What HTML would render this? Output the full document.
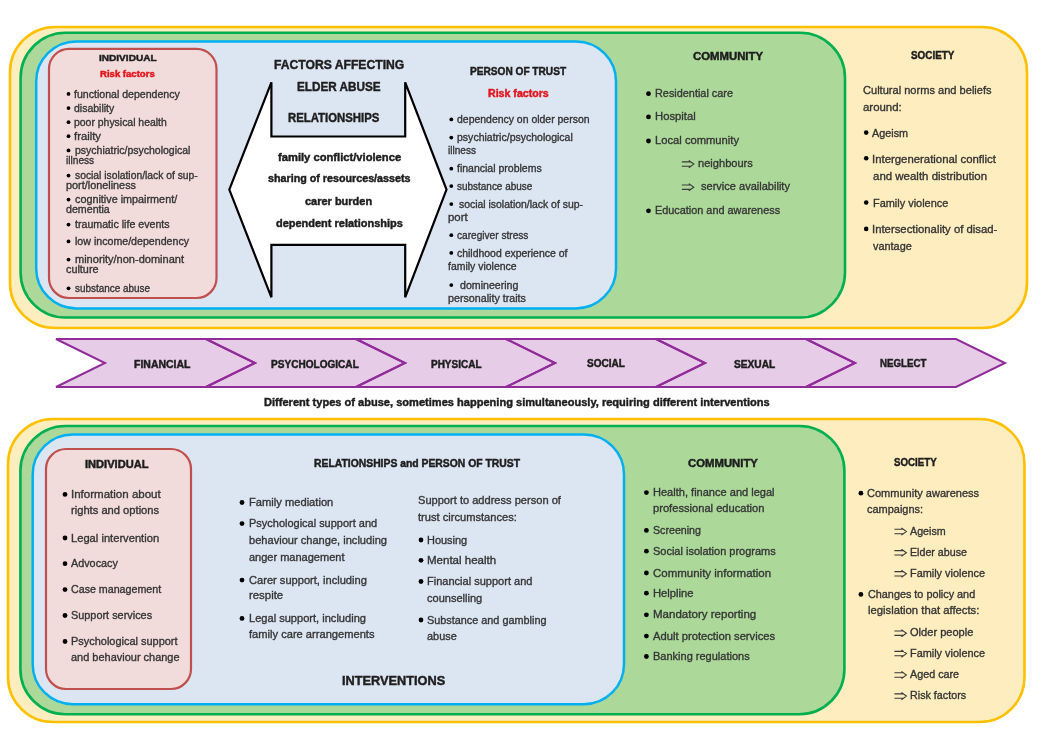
<!DOCTYPE html>
<html><head><meta charset="utf-8"><style>
html,body{margin:0;padding:0;background:#fff;}
body{width:1045px;height:729px;position:relative;overflow:hidden;font-family:"Liberation Sans",sans-serif;}
svg{position:absolute;left:0;top:0;}
#w{position:absolute;left:0;top:0;width:1045px;height:729px;filter:blur(0.55px);}
.t{position:absolute;white-space:nowrap;line-height:normal;transform-origin:0 0;-webkit-text-stroke:0.35px currentColor;}
.b{-webkit-text-stroke:0.45px currentColor;}
</style></head><body>
<div id="w">
<svg width="1045" height="729" viewBox="0 0 1045 729">
<rect x="10" y="27" width="1017" height="301" rx="45" fill="#FEEDBE" stroke="#FFC000" stroke-width="2.6"/>
<rect x="20.6" y="32.8" width="824.4" height="284.7" rx="45" fill="#ACD99A" stroke="#00B050" stroke-width="2.6"/>
<rect x="36.2" y="41.5" width="579.8" height="266.9" rx="40" fill="#DCE5F2" stroke="#00B0F0" stroke-width="2.5"/>
<rect x="49" y="48.9" width="167.5" height="249.1" rx="20" fill="#F2DBDB" stroke="#C0504D" stroke-width="2.2"/>
<rect x="8" y="419" width="1016.5" height="303" rx="45" fill="#FEEDBE" stroke="#FFC000" stroke-width="2.6"/>
<rect x="20.4" y="426" width="824" height="288.2" rx="45" fill="#ACD99A" stroke="#00B050" stroke-width="2.6"/>
<rect x="32.7" y="434.4" width="591.3" height="269.8" rx="40" fill="#DCE5F2" stroke="#00B0F0" stroke-width="2.5"/>
<rect x="46" y="449" width="145" height="240" rx="20" fill="#F2DBDB" stroke="#C0504D" stroke-width="2.2"/>
<polygon points="229.3,189.6 271.4,82.3 271.4,136.5 405.2,136.5 405.2,82.3 446.5,189.6 405.2,297.3 405.2,244.8 271.4,244.8 271.4,297.3" fill="#FFFFFF" stroke="#000" stroke-width="2.2" stroke-linejoin="miter" stroke-miterlimit="1.5"/>
<polygon points="56,339 956,339 1005,363 956,387 56,387 105,363" fill="#E6CCE6"/>
<polygon points="56,339 206,339 255,363 206,387 56,387 105,363" fill="none" stroke="#912C9A" stroke-width="2" stroke-linejoin="miter"/>
<polygon points="206,339 356,339 405,363 356,387 206,387 255,363" fill="none" stroke="#912C9A" stroke-width="2" stroke-linejoin="miter"/>
<polygon points="356,339 506,339 555,363 506,387 356,387 405,363" fill="none" stroke="#912C9A" stroke-width="2" stroke-linejoin="miter"/>
<polygon points="506,339 656,339 705,363 656,387 506,387 555,363" fill="none" stroke="#912C9A" stroke-width="2" stroke-linejoin="miter"/>
<polygon points="656,339 806,339 855,363 806,387 656,387 705,363" fill="none" stroke="#912C9A" stroke-width="2" stroke-linejoin="miter"/>
<polygon points="806,339 956,339 1005,363 956,387 806,387 855,363" fill="none" stroke="#912C9A" stroke-width="2" stroke-linejoin="miter"/>
<circle cx="68.5" cy="93.90" r="1.9" fill="#000"/>
<circle cx="68.5" cy="108.10" r="1.9" fill="#000"/>
<circle cx="68.5" cy="122.20" r="1.9" fill="#000"/>
<circle cx="68.5" cy="136.20" r="1.9" fill="#000"/>
<circle cx="68.5" cy="150.40" r="1.9" fill="#000"/>
<circle cx="68.5" cy="175.60" r="1.9" fill="#000"/>
<circle cx="68.5" cy="199.60" r="1.9" fill="#000"/>
<circle cx="68.5" cy="224.60" r="1.9" fill="#000"/>
<circle cx="68.5" cy="241.40" r="1.9" fill="#000"/>
<circle cx="68.5" cy="259.60" r="1.9" fill="#000"/>
<circle cx="68.5" cy="288.30" r="1.9" fill="#000"/>
<circle cx="451.3" cy="119.40" r="1.9" fill="#000"/>
<circle cx="451.3" cy="137.60" r="1.9" fill="#000"/>
<circle cx="451.3" cy="168.70" r="1.9" fill="#000"/>
<circle cx="451.3" cy="186.10" r="1.9" fill="#000"/>
<circle cx="451.3" cy="204.10" r="1.9" fill="#000"/>
<circle cx="451.3" cy="235.20" r="1.9" fill="#000"/>
<circle cx="451.3" cy="252.90" r="1.9" fill="#000"/>
<circle cx="451.3" cy="285.10" r="1.9" fill="#000"/>
<circle cx="648.5" cy="93.70" r="2.4" fill="#000"/>
<circle cx="648.5" cy="116.90" r="2.4" fill="#000"/>
<circle cx="648.5" cy="141.00" r="2.4" fill="#000"/>
<circle cx="648.5" cy="210.80" r="2.4" fill="#000"/>
<circle cx="866.2" cy="132.60" r="2.3" fill="#000"/>
<circle cx="866.2" cy="158.20" r="2.3" fill="#000"/>
<circle cx="866.2" cy="202.50" r="2.3" fill="#000"/>
<circle cx="866.2" cy="228.90" r="2.3" fill="#000"/>
<circle cx="65.0" cy="494.40" r="2.4" fill="#000"/>
<circle cx="65.0" cy="538.00" r="2.4" fill="#000"/>
<circle cx="65.0" cy="563.70" r="2.4" fill="#000"/>
<circle cx="65.0" cy="589.60" r="2.4" fill="#000"/>
<circle cx="65.0" cy="615.50" r="2.4" fill="#000"/>
<circle cx="65.0" cy="641.50" r="2.4" fill="#000"/>
<circle cx="242.0" cy="502.50" r="2.4" fill="#000"/>
<circle cx="242.0" cy="523.60" r="2.4" fill="#000"/>
<circle cx="242.0" cy="580.10" r="2.4" fill="#000"/>
<circle cx="242.0" cy="618.40" r="2.4" fill="#000"/>
<circle cx="421.0" cy="540.00" r="2.4" fill="#000"/>
<circle cx="421.0" cy="560.30" r="2.4" fill="#000"/>
<circle cx="421.0" cy="581.50" r="2.4" fill="#000"/>
<circle cx="421.0" cy="620.00" r="2.4" fill="#000"/>
<circle cx="646.4" cy="492.60" r="2.4" fill="#000"/>
<circle cx="646.4" cy="530.40" r="2.4" fill="#000"/>
<circle cx="646.4" cy="551.20" r="2.4" fill="#000"/>
<circle cx="646.4" cy="573.00" r="2.4" fill="#000"/>
<circle cx="646.4" cy="593.20" r="2.4" fill="#000"/>
<circle cx="646.4" cy="614.80" r="2.4" fill="#000"/>
<circle cx="646.4" cy="636.10" r="2.4" fill="#000"/>
<circle cx="646.4" cy="656.50" r="2.4" fill="#000"/>
<circle cx="860.9" cy="493.20" r="2.4" fill="#000"/>
<circle cx="860.9" cy="594.40" r="2.4" fill="#000"/>
<path d="M681.8 161.90H691.3M681.8 166.30H691.3M688.8 160.50L693.8 164.10L688.8 167.70" fill="none" stroke="#3a3a3a" stroke-width="1.1"/>
<path d="M681.8 185.00H691.3M681.8 189.40H691.3M688.8 183.60L693.8 187.20L688.8 190.80" fill="none" stroke="#3a3a3a" stroke-width="1.1"/>
<path d="M894.4 529.30H903.9M894.4 533.70H903.9M901.4 527.90L906.4 531.50L901.4 535.10" fill="none" stroke="#3a3a3a" stroke-width="1.1"/>
<path d="M894.4 550.60H903.9M894.4 555.00H903.9M901.4 549.20L906.4 552.80L901.4 556.40" fill="none" stroke="#3a3a3a" stroke-width="1.1"/>
<path d="M894.4 571.60H903.9M894.4 576.00H903.9M901.4 570.20L906.4 573.80L901.4 577.40" fill="none" stroke="#3a3a3a" stroke-width="1.1"/>
<path d="M894.4 631.00H903.9M894.4 635.40H903.9M901.4 629.60L906.4 633.20L901.4 636.80" fill="none" stroke="#3a3a3a" stroke-width="1.1"/>
<path d="M894.4 651.40H903.9M894.4 655.80H903.9M901.4 650.00L906.4 653.60L901.4 657.20" fill="none" stroke="#3a3a3a" stroke-width="1.1"/>
<path d="M894.4 672.80H903.9M894.4 677.20H903.9M901.4 671.40L906.4 675.00L901.4 678.60" fill="none" stroke="#3a3a3a" stroke-width="1.1"/>
<path d="M894.4 693.90H903.9M894.4 698.30H903.9M901.4 692.50L906.4 696.10L901.4 699.70" fill="none" stroke="#3a3a3a" stroke-width="1.1"/>
</svg>
<div class="t b" style="left:98.70px;top:53.12px;font-size:9.26px;font-weight:bold;color:#1e1e1e;transform:scaleX(1.0878)">INDIVIDUAL</div>
<div class="t b" style="left:100.00px;top:69.04px;font-size:8.8px;font-weight:bold;color:#e3151c;transform:scaleX(1.0873)">Risk factors</div>
<div class="t" style="left:74.20px;top:87.79px;font-size:10.51px;color:#363636;transform:scaleX(1.0067)">functional dependency</div>
<div class="t" style="left:74.20px;top:101.99px;font-size:10.51px;color:#363636;transform:scaleX(0.9988)">disability</div>
<div class="t" style="left:74.20px;top:116.09px;font-size:10.51px;color:#363636;transform:scaleX(0.9936)">poor physical health</div>
<div class="t" style="left:74.20px;top:130.09px;font-size:10.51px;color:#363636;transform:scaleX(1.0757)">frailty</div>
<div class="t" style="left:74.60px;top:144.29px;font-size:10.51px;color:#363636;transform:scaleX(0.9987)">psychiatric/psychological</div>
<div class="t" style="left:65.60px;top:153.99px;font-size:10.51px;color:#363636;transform:scaleX(0.9658)">illness</div>
<div class="t" style="left:74.60px;top:169.49px;font-size:10.51px;color:#363636;transform:scaleX(0.9832)">social isolation/lack of sup-</div>
<div class="t" style="left:65.70px;top:179.29px;font-size:10.51px;color:#363636;transform:scaleX(1.0340)">port/loneliness</div>
<div class="t" style="left:74.60px;top:193.49px;font-size:10.51px;color:#363636;transform:scaleX(1.0297)">cognitive impairment/</div>
<div class="t" style="left:65.70px;top:202.99px;font-size:10.51px;color:#363636;transform:scaleX(1.0139)">dementia</div>
<div class="t" style="left:74.60px;top:218.49px;font-size:10.51px;color:#363636;transform:scaleX(1.0134)">traumatic life events</div>
<div class="t" style="left:74.60px;top:235.29px;font-size:10.51px;color:#363636;transform:scaleX(1.0120)">low income/dependency</div>
<div class="t" style="left:74.60px;top:253.49px;font-size:10.51px;color:#363636;transform:scaleX(1.0491)">minority/non-dominant</div>
<div class="t" style="left:65.70px;top:263.49px;font-size:10.51px;color:#363636;transform:scaleX(1.0317)">culture</div>
<div class="t" style="left:74.60px;top:282.19px;font-size:10.51px;color:#363636;transform:scaleX(0.9458)">substance abuse</div>
<div class="t b" style="left:274.00px;top:57.03px;font-size:12.9px;font-weight:bold;color:#1e1e1e;transform:scaleX(0.9422)">FACTORS AFFECTING</div>
<div class="t b" style="left:296.90px;top:79.43px;font-size:12.9px;font-weight:bold;color:#1e1e1e;transform:scaleX(0.9087)">ELDER ABUSE</div>
<div class="t b" style="left:287.60px;top:110.23px;font-size:12.9px;font-weight:bold;color:#1e1e1e;transform:scaleX(0.8814)">RELATIONSHIPS</div>
<div class="t b" style="left:277.70px;top:150.65px;font-size:10.99px;font-weight:bold;color:#1e1e1e;transform:scaleX(1.0186)">family conflict/violence</div>
<div class="t b" style="left:267.80px;top:172.05px;font-size:10.99px;font-weight:bold;color:#1e1e1e;transform:scaleX(0.9764)">sharing of resources/assets</div>
<div class="t b" style="left:305.20px;top:195.05px;font-size:10.99px;font-weight:bold;color:#1e1e1e;transform:scaleX(0.9993)">carer burden</div>
<div class="t b" style="left:275.50px;top:216.65px;font-size:10.99px;font-weight:bold;color:#1e1e1e;transform:scaleX(0.9988)">dependent relationships</div>
<div class="t b" style="left:470.00px;top:66.02px;font-size:10.36px;font-weight:bold;color:#1e1e1e;transform:scaleX(0.9761)">PERSON OF TRUST</div>
<div class="t b" style="left:487.70px;top:87.57px;font-size:10.2px;font-weight:bold;color:#e3151c;transform:scaleX(1.0411)">Risk factors</div>
<div class="t" style="left:457.00px;top:113.19px;font-size:10.51px;color:#363636;transform:scaleX(0.9955)">dependency on older person</div>
<div class="t" style="left:457.00px;top:131.39px;font-size:10.51px;color:#363636;transform:scaleX(1.0022)">psychiatric/psychological</div>
<div class="t" style="left:448.40px;top:144.49px;font-size:10.51px;color:#363636;transform:scaleX(0.9623)">illness</div>
<div class="t" style="left:457.00px;top:162.49px;font-size:10.51px;color:#363636;transform:scaleX(1.0006)">financial problems</div>
<div class="t" style="left:457.00px;top:179.89px;font-size:10.51px;color:#363636;transform:scaleX(0.9484)">substance abuse</div>
<div class="t" style="left:459.00px;top:197.89px;font-size:10.51px;color:#363636;transform:scaleX(0.9928)">social isolation/lack of sup-</div>
<div class="t" style="left:448.40px;top:211.49px;font-size:10.51px;color:#363636;transform:scaleX(1.0829)">port</div>
<div class="t" style="left:457.00px;top:228.99px;font-size:10.51px;color:#363636;transform:scaleX(0.9636)">caregiver stress</div>
<div class="t" style="left:457.00px;top:246.69px;font-size:10.51px;color:#363636;transform:scaleX(0.9950)">childhood experience of</div>
<div class="t" style="left:448.40px;top:260.49px;font-size:10.51px;color:#363636;transform:scaleX(0.9964)">family violence</div>
<div class="t" style="left:459.60px;top:278.89px;font-size:10.51px;color:#363636;transform:scaleX(1.0104)">domineering</div>
<div class="t" style="left:448.40px;top:292.49px;font-size:10.51px;color:#363636;transform:scaleX(1.0190)">personality traits</div>
<div class="t b" style="left:692.60px;top:50.92px;font-size:10.36px;font-weight:bold;color:#1e1e1e;transform:scaleX(1.0956)">COMMUNITY</div>
<div class="t" style="left:654.70px;top:87.13px;font-size:11.02px;color:#363636;transform:scaleX(0.9873)">Residential care</div>
<div class="t" style="left:654.70px;top:110.33px;font-size:11.02px;color:#363636;transform:scaleX(1.0214)">Hospital</div>
<div class="t" style="left:654.70px;top:134.43px;font-size:11.02px;color:#363636;transform:scaleX(1.0164)">Local community</div>
<div class="t" style="left:697.50px;top:157.33px;font-size:11.02px;color:#363636;transform:scaleX(1.0064)">neighbours</div>
<div class="t" style="left:700.80px;top:180.43px;font-size:11.02px;color:#363636;transform:scaleX(1.0017)">service availability</div>
<div class="t" style="left:654.70px;top:204.23px;font-size:11.02px;color:#363636;transform:scaleX(0.9866)">Education and awareness</div>
<div class="t b" style="left:910.70px;top:49.62px;font-size:10.36px;font-weight:bold;color:#1e1e1e;transform:scaleX(0.9527)">SOCIETY</div>
<div class="t" style="left:863.30px;top:83.83px;font-size:11.02px;color:#363636;transform:scaleX(1.0047)">Cultural norms and beliefs</div>
<div class="t" style="left:863.30px;top:100.63px;font-size:11.02px;color:#363636;transform:scaleX(1.0375)">around:</div>
<div class="t" style="left:872.30px;top:127.03px;font-size:11.02px;color:#363636;transform:scaleX(0.9809)">Ageism</div>
<div class="t" style="left:871.80px;top:152.63px;font-size:11.02px;color:#363636;transform:scaleX(1.0321)">Intergenerational conflict</div>
<div class="t" style="left:872.80px;top:170.03px;font-size:11.02px;color:#363636;transform:scaleX(1.0407)">and wealth distribution</div>
<div class="t" style="left:872.80px;top:196.93px;font-size:11.02px;color:#363636;transform:scaleX(0.9921)">Family violence</div>
<div class="t" style="left:871.80px;top:223.33px;font-size:11.02px;color:#363636;transform:scaleX(1.0288)">Intersectionality of disad-</div>
<div class="t" style="left:872.80px;top:240.03px;font-size:11.02px;color:#363636;transform:scaleX(0.9885)">vantage</div>
<div class="t b" style="left:133.50px;top:359.40px;font-size:10.06px;font-weight:bold;color:#1e1e1e;transform:scaleX(1.0434)">FINANCIAL</div>
<div class="t b" style="left:270.90px;top:359.10px;font-size:10.06px;font-weight:bold;color:#1e1e1e;transform:scaleX(1.0017)">PSYCHOLOGICAL</div>
<div class="t b" style="left:430.90px;top:359.10px;font-size:10.06px;font-weight:bold;color:#1e1e1e;transform:scaleX(0.9941)">PHYSICAL</div>
<div class="t b" style="left:586.80px;top:358.20px;font-size:10.06px;font-weight:bold;color:#1e1e1e;transform:scaleX(1.0013)">SOCIAL</div>
<div class="t b" style="left:734.00px;top:358.70px;font-size:10.06px;font-weight:bold;color:#1e1e1e;transform:scaleX(1.0110)">SEXUAL</div>
<div class="t b" style="left:880.10px;top:357.90px;font-size:10.06px;font-weight:bold;color:#1e1e1e;transform:scaleX(0.9646)">NEGLECT</div>
<div class="t b" style="left:264.20px;top:395.07px;font-size:11.64px;font-weight:bold;color:#1e1e1e;transform:scaleX(0.9516)">Different types of abuse, sometimes happening simultaneously, requiring different interventions</div>
<div class="t b" style="left:85.40px;top:458.82px;font-size:10.36px;font-weight:bold;color:#1e1e1e;transform:scaleX(1.0709)">INDIVIDUAL</div>
<div class="t" style="left:71.20px;top:487.93px;font-size:11.02px;color:#363636;transform:scaleX(1.0467)">Information about</div>
<div class="t" style="left:71.20px;top:504.23px;font-size:11.02px;color:#363636;transform:scaleX(1.0132)">rights and options</div>
<div class="t" style="left:71.20px;top:531.53px;font-size:11.02px;color:#363636;transform:scaleX(1.0132)">Legal intervention</div>
<div class="t" style="left:71.20px;top:557.23px;font-size:11.02px;color:#363636;transform:scaleX(0.9811)">Advocacy</div>
<div class="t" style="left:71.20px;top:583.13px;font-size:11.02px;color:#363636;transform:scaleX(0.9683)">Case management</div>
<div class="t" style="left:71.20px;top:609.03px;font-size:11.02px;color:#363636;transform:scaleX(0.9884)">Support services</div>
<div class="t" style="left:71.20px;top:635.03px;font-size:11.02px;color:#363636;transform:scaleX(0.9944)">Psychological support</div>
<div class="t" style="left:71.20px;top:651.33px;font-size:11.02px;color:#363636;transform:scaleX(0.9959)">and behaviour change</div>
<div class="t b" style="left:314.20px;top:457.82px;font-size:10.36px;font-weight:bold;color:#1e1e1e;transform:scaleX(1.0007)">RELATIONSHIPS and PERSON OF TRUST</div>
<div class="t" style="left:248.70px;top:496.03px;font-size:11.02px;color:#363636;transform:scaleX(1.0126)">Family mediation</div>
<div class="t" style="left:248.70px;top:517.13px;font-size:11.02px;color:#363636;transform:scaleX(0.9961)">Psychological support and</div>
<div class="t" style="left:248.70px;top:533.73px;font-size:11.02px;color:#363636;transform:scaleX(1.0058)">behaviour change, including</div>
<div class="t" style="left:248.70px;top:551.03px;font-size:11.02px;color:#363636;transform:scaleX(0.9990)">anger management</div>
<div class="t" style="left:248.70px;top:573.63px;font-size:11.02px;color:#363636;transform:scaleX(1.0077)">Carer support, including</div>
<div class="t" style="left:248.70px;top:589.33px;font-size:11.02px;color:#363636;transform:scaleX(1.0333)">respite</div>
<div class="t" style="left:248.70px;top:611.93px;font-size:11.02px;color:#363636;transform:scaleX(1.0052)">Legal support, including</div>
<div class="t" style="left:248.70px;top:628.03px;font-size:11.02px;color:#363636;transform:scaleX(1.0097)">family care arrangements</div>
<div class="t" style="left:418.00px;top:493.83px;font-size:11.02px;color:#363636;transform:scaleX(1.0056)">Support to address person of</div>
<div class="t" style="left:418.00px;top:511.43px;font-size:11.02px;color:#363636;transform:scaleX(1.0092)">trust circumstances:</div>
<div class="t" style="left:427.00px;top:533.53px;font-size:11.02px;color:#363636;transform:scaleX(0.9938)">Housing</div>
<div class="t" style="left:427.00px;top:553.83px;font-size:11.02px;color:#363636;transform:scaleX(1.0462)">Mental health</div>
<div class="t" style="left:427.00px;top:575.03px;font-size:11.02px;color:#363636;transform:scaleX(1.0010)">Financial support and</div>
<div class="t" style="left:427.00px;top:591.83px;font-size:11.02px;color:#363636;transform:scaleX(1.0009)">counselling</div>
<div class="t" style="left:427.00px;top:613.53px;font-size:11.02px;color:#363636;transform:scaleX(0.9851)">Substance and gambling</div>
<div class="t" style="left:427.00px;top:630.33px;font-size:11.02px;color:#363636;transform:scaleX(0.9917)">abuse</div>
<div class="t b" style="left:341.70px;top:672.73px;font-size:12.9px;font-weight:bold;color:#1e1e1e;transform:scaleX(0.9885)">INTERVENTIONS</div>
<div class="t b" style="left:687.80px;top:458.02px;font-size:10.36px;font-weight:bold;color:#1e1e1e;transform:scaleX(1.0940)">COMMUNITY</div>
<div class="t" style="left:653.00px;top:486.13px;font-size:11.02px;color:#363636;transform:scaleX(1.0025)">Health, finance and legal</div>
<div class="t" style="left:653.00px;top:502.43px;font-size:11.02px;color:#363636;transform:scaleX(1.0109)">professional education</div>
<div class="t" style="left:653.00px;top:523.93px;font-size:11.02px;color:#363636;transform:scaleX(0.9667)">Screening</div>
<div class="t" style="left:653.00px;top:544.73px;font-size:11.02px;color:#363636;transform:scaleX(0.9967)">Social isolation programs</div>
<div class="t" style="left:653.00px;top:566.53px;font-size:11.02px;color:#363636;transform:scaleX(1.0424)">Community information</div>
<div class="t" style="left:653.00px;top:586.73px;font-size:11.02px;color:#363636;transform:scaleX(1.0189)">Helpline</div>
<div class="t" style="left:653.00px;top:608.33px;font-size:11.02px;color:#363636;transform:scaleX(1.0472)">Mandatory reporting</div>
<div class="t" style="left:653.00px;top:629.63px;font-size:11.02px;color:#363636;transform:scaleX(1.0179)">Adult protection services</div>
<div class="t" style="left:653.00px;top:650.03px;font-size:11.02px;color:#363636;transform:scaleX(0.9990)">Banking regulations</div>
<div class="t b" style="left:894.40px;top:457.22px;font-size:10.36px;font-weight:bold;color:#1e1e1e;transform:scaleX(0.9373)">SOCIETY</div>
<div class="t" style="left:867.40px;top:486.73px;font-size:11.02px;color:#363636;transform:scaleX(1.0009)">Community awareness</div>
<div class="t" style="left:867.40px;top:502.73px;font-size:11.02px;color:#363636;transform:scaleX(0.9956)">campaigns:</div>
<div class="t" style="left:909.80px;top:524.73px;font-size:11.02px;color:#363636;transform:scaleX(0.9700)">Ageism</div>
<div class="t" style="left:909.80px;top:546.03px;font-size:11.02px;color:#363636;transform:scaleX(0.9676)">Elder abuse</div>
<div class="t" style="left:910.00px;top:567.03px;font-size:11.02px;color:#363636;transform:scaleX(0.9881)">Family violence</div>
<div class="t" style="left:867.50px;top:587.93px;font-size:11.02px;color:#363636;transform:scaleX(0.9830)">Changes to policy and</div>
<div class="t" style="left:867.50px;top:604.33px;font-size:11.02px;color:#363636;transform:scaleX(1.0235)">legislation that affects:</div>
<div class="t" style="left:910.00px;top:626.43px;font-size:11.02px;color:#363636;transform:scaleX(1.0048)">Older people</div>
<div class="t" style="left:910.00px;top:646.83px;font-size:11.02px;color:#363636;transform:scaleX(0.9881)">Family violence</div>
<div class="t" style="left:910.00px;top:668.23px;font-size:11.02px;color:#363636;transform:scaleX(0.9771)">Aged care</div>
<div class="t" style="left:910.00px;top:689.33px;font-size:11.02px;color:#363636;transform:scaleX(0.9748)">Risk factors</div>
</div>
</body></html>
